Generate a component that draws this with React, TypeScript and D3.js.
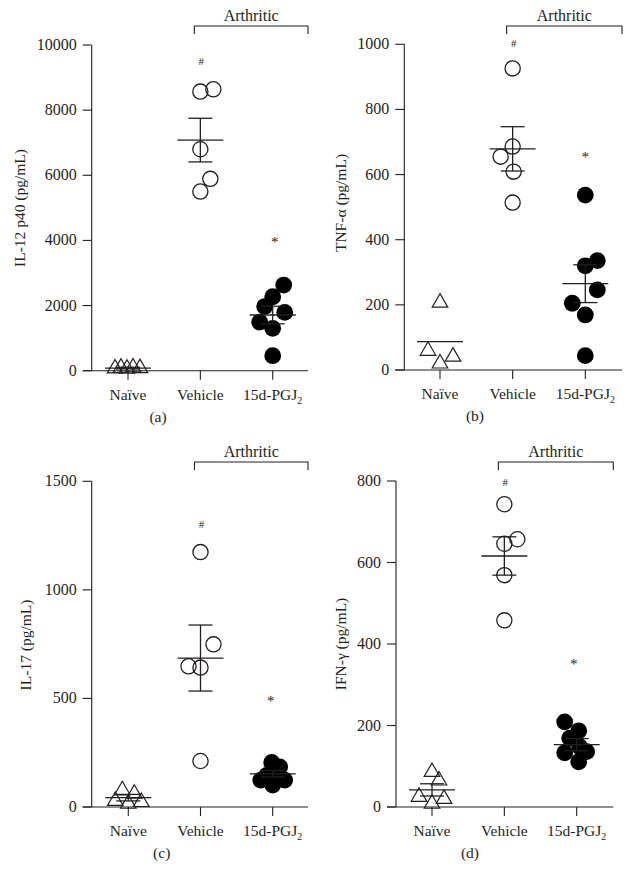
import React from "react";
import * as d3 from "d3";

const categories = ["Naïve", "Vehicle", "15d-PGJ2"];

// Panel (a) IL-12 p40
const aNaive = [70, 90, 60, 100, 80];
const aNaiveJit = [-13, -7, -1, 5, 12];
const aVehicle = [8570, 8640, 6800, 5890, 5500];
const aVehicleJit = [0, 13, 0, 10, 0];
const aPGJ = [2630, 2270, 1970, 1790, 1490, 1300, 460];
const aPGJJit = [11, 0, -8, 12, -13, 0, 0];
const aMean = [80, 7080, 1710];
const aSem = [25, 670, 270];
const aTicks = [0, 2000, 4000, 6000, 8000, 10000];

// Panel (b) TNF-α
const bNaive = [207, 59, 20, 41];
const bNaiveJit = [0, -12, 0, 13];
const bVehicle = [926, 655, 686, 609, 514];
const bVehicleJit = [0, -12, 0, 1, 0];
const bPGJ = [537, 320, 336, 246, 205, 169, 44];
const bPGJJit = [0, 0, 12, 12, -13, 0, 0];
const bMean = [87, 679, 265];
const bSem = [0, 68, 58];
const bTicks = [0, 200, 400, 600, 800, 1000];

// Panel (c) IL-17
const cNaive = [77, 61, 28, 15, 23];
const cNaiveJit = [-6, 6, -13, 0, 13];
const cVehicle = [1174, 749, 648, 642, 212];
const cVehicleJit = [0, 13, -12, 0, 0];
const cPGJ = [205, 185, 163, 145, 124, 124, 101];
const cPGJJit = [-1, 7, 2, -6, -12, 12, 0];
const cMean = [43, 686, 153];
const cSem = [15, 152, 15];
const cTicks = [0, 500, 1000, 1500];

// Panel (d) IFN-γ
const dNaive = [86, 65, 25, 20, 8];
const dNaiveJit = [0, 7, -13, 12, 0];
const dVehicle = [743, 657, 646, 569, 458];
const dVehicleJit = [0, 13, 0, 0, 0];
const dPGJ = [209, 187, 169, 133, 136, 148, 111];
const dPGJJit = [-12, 2, -7, -12, 10, 3, 2];
const dMean = [42, 616, 153];
const dSem = [15, 47, 15];
const dTicks = [0, 200, 400, 600, 800];

const hashValues = [9500, 1003, 1305, 798];
const starValues = [4010, 660, 496, 356];

const INK = "#231f20";
const FONT = "'Liberation Serif', 'Times New Roman', serif";

type PanelProps = {
  label: string;
  yLabel: React.ReactNode;
  ticks: number[];
  naive: number[];
  naiveJit: number[];
  vehicle: number[];
  vehicleJit: number[];
  pgj: number[];
  pgjJit: number[];
  mean: number[];
  sem: number[];
  hash: number;
  star: number;
  axisX: number;
  right: number;
  y0: number;
  yTop: number;
  cat0: number;
  cat2: number;
  yLabelX: number;
  yLabelY: number;
  panelLabelX: number;
  bracketY: number;
  starDx: number;
};

function Panel(p: PanelProps) {
  const max = p.ticks[p.ticks.length - 1];
  const y = d3.scaleLinear().domain([0, max]).range([p.y0, p.yTop]);
  const x = d3.scalePoint<string>().domain(categories).range([p.cat0, p.cat2]);
  const tri = d3.symbol().type(d3.symbolTriangle).size(105)();
  const xv = x("Vehicle")!;
  const xp = x("15d-PGJ2")!;
  const groups = [
    { vals: p.naive, jit: p.naiveJit, cat: "Naïve" },
    { vals: p.vehicle, jit: p.vehicleJit, cat: "Vehicle" },
    { vals: p.pgj, jit: p.pgjJit, cat: "15d-PGJ2" },
  ];
  return (
    <g>
      {/* axes */}
      <line x1={p.axisX} x2={p.axisX} y1={p.y0} y2={p.yTop} stroke={INK} strokeWidth={1.1} />
      <line x1={p.axisX - 9} x2={p.right} y1={p.y0} y2={p.y0} stroke={INK} strokeWidth={1.1} />
      {p.ticks.map((t) => (
        <g key={t}>
          <line x1={p.axisX - 9} x2={p.axisX} y1={y(t)} y2={y(t)} stroke={INK} strokeWidth={1.1} />
          <text x={p.axisX - 15} y={y(t) + 5} textAnchor="end" fontSize={16} fill={INK} fontFamily={FONT}>
            {t}
          </text>
        </g>
      ))}
      {categories.map((c) => (
        <g key={c}>
          <line x1={x(c)} x2={x(c)} y1={p.y0} y2={p.y0 + 9} stroke={INK} strokeWidth={1.1} />
          <text x={x(c)} y={p.y0 + 29} textAnchor="middle" fontSize={15.5} fill={INK} fontFamily={FONT}>
            {c === "15d-PGJ2" ? (
              <>
                <tspan>15d-PGJ</tspan>
                <tspan dy={4} fontSize={10}>2</tspan>
              </>
            ) : (
              c
            )}
          </text>
        </g>
      ))}
      {/* y label */}
      <text
        transform={`translate(${p.yLabelX},${p.yLabelY}) rotate(-90)`}
        textAnchor="middle"
        fontSize={15.5}
        fill={INK}
        fontFamily={FONT}
      >
        {p.yLabel}
      </text>
      {/* panel label */}
      <text x={p.panelLabelX} y={p.y0 + 51} textAnchor="middle" fontSize={15.5} fill={INK} fontFamily={FONT}>
        {p.label}
      </text>
      {/* bracket */}
      <path
        d={`M${xv - 6},${p.bracketY + 8}V${p.bracketY}H${p.right}V${p.bracketY + 8}`}
        fill="none"
        stroke={INK}
        strokeWidth={1.1}
      />
      <text x={(xv - 6 + p.right) / 2} y={p.bracketY - 5} textAnchor="middle" fontSize={16} fill={INK} fontFamily={FONT}>
        Arthritic
      </text>
      {/* points */}
      {groups[0].vals.map((v, i) => (
        <path
          key={"n" + i}
          d={tri}
          transform={`translate(${x("Naïve")! + groups[0].jit[i]},${y(v)})`}
          fill="none"
          stroke={INK}
          strokeWidth={1.2}
        />
      ))}
      {groups[1].vals.map((v, i) => (
        <circle key={"v" + i} cx={xv + groups[1].jit[i]} cy={y(v)} r={7.6} fill="none" stroke={INK} strokeWidth={1.3} />
      ))}
      {groups[2].vals.map((v, i) => (
        <circle key={"p" + i} cx={xp + groups[2].jit[i]} cy={y(v)} r={8.4} fill="#000" />
      ))}
      {/* mean & sem */}
      {categories.map((c, i) => (
        <g key={"m" + c} stroke={INK} strokeWidth={1.3}>
          <line x1={x(c)! - 23} x2={x(c)! + 23} y1={y(p.mean[i])} y2={y(p.mean[i])} />
          {p.sem[i] > 0 && (
            <>
              <line x1={x(c)} x2={x(c)} y1={y(p.mean[i] - p.sem[i])} y2={y(p.mean[i] + p.sem[i])} />
              <line x1={x(c)! - 12} x2={x(c)! + 12} y1={y(p.mean[i] + p.sem[i])} y2={y(p.mean[i] + p.sem[i])} />
              <line x1={x(c)! - 12} x2={x(c)! + 12} y1={y(p.mean[i] - p.sem[i])} y2={y(p.mean[i] - p.sem[i])} />
            </>
          )}
        </g>
      ))}
      <text x={xv + 1} y={y(p.hash) + 4} textAnchor="middle" fontSize={11} fill={INK} fontFamily={FONT}>
        #
      </text>
      <text x={xp + p.starDx} y={y(p.star) + 7} textAnchor="middle" fontSize={15} fill={INK} fontFamily={FONT}>
        *
      </text>
    </g>
  );
}

export default function App() {
  return (
    <svg width={632} height={894} style={{ display: "block", position: "absolute", left: 0, top: 0, background: "#fff" }}>
      <rect width={632} height={894} fill="#fff" />
      <Panel
        label="(a)"
        yLabel="IL-12 p40 (pg/mL)"
        ticks={aTicks}
        naive={aNaive}
        naiveJit={aNaiveJit}
        vehicle={aVehicle}
        vehicleJit={aVehicleJit}
        pgj={aPGJ}
        pgjJit={aPGJJit}
        mean={aMean}
        sem={aSem}
        hash={hashValues[0]}
        star={starValues[0]}
        axisX={91.7}
        right={308}
        y0={370.7}
        yTop={45}
        cat0={128}
        cat2={272.7}
        yLabelX={25}
        yLabelY={208}
        panelLabelX={158}
        bracketY={26}
        starDx={2}
      />
      <Panel
        label="(b)"
        yLabel="TNF-α (pg/mL)"
        ticks={bTicks}
        naive={bNaive}
        naiveJit={bNaiveJit}
        vehicle={bVehicle}
        vehicleJit={bVehicleJit}
        pgj={bPGJ}
        pgjJit={bPGJJit}
        mean={bMean}
        sem={bSem}
        hash={hashValues[1]}
        star={starValues[1]}
        axisX={404.3}
        right={622}
        y0={370}
        yTop={44.3}
        cat0={440}
        cat2={585.3}
        yLabelX={346}
        yLabelY={203}
        panelLabelX={475}
        bracketY={26}
        starDx={0}
      />
      <Panel
        label="(c)"
        yLabel="IL-17 (pg/mL)"
        ticks={cTicks}
        naive={cNaive}
        naiveJit={cNaiveJit}
        vehicle={cVehicle}
        vehicleJit={cVehicleJit}
        pgj={cPGJ}
        pgjJit={cPGJJit}
        mean={cMean}
        sem={cSem}
        hash={hashValues[2]}
        star={starValues[2]}
        axisX={91.7}
        right={308}
        y0={807}
        yTop={481.3}
        cat0={128.3}
        cat2={272.7}
        yLabelX={31}
        yLabelY={645}
        panelLabelX={161.7}
        bracketY={462}
        starDx={-2}
      />
      <Panel
        label="(d)"
        yLabel="IFN-γ (pg/mL)"
        ticks={dTicks}
        naive={dNaive}
        naiveJit={dNaiveJit}
        vehicle={dVehicle}
        vehicleJit={dVehicleJit}
        pgj={dPGJ}
        pgjJit={dPGJJit}
        mean={dMean}
        sem={dSem}
        hash={hashValues[3]}
        star={starValues[3]}
        axisX={396}
        right={613.3}
        y0={807}
        yTop={481}
        cat0={432}
        cat2={576.7}
        yLabelX={346}
        yLabelY={644}
        panelLabelX={470}
        bracketY={462}
        starDx={-3}
      />
    </svg>
  );
}
